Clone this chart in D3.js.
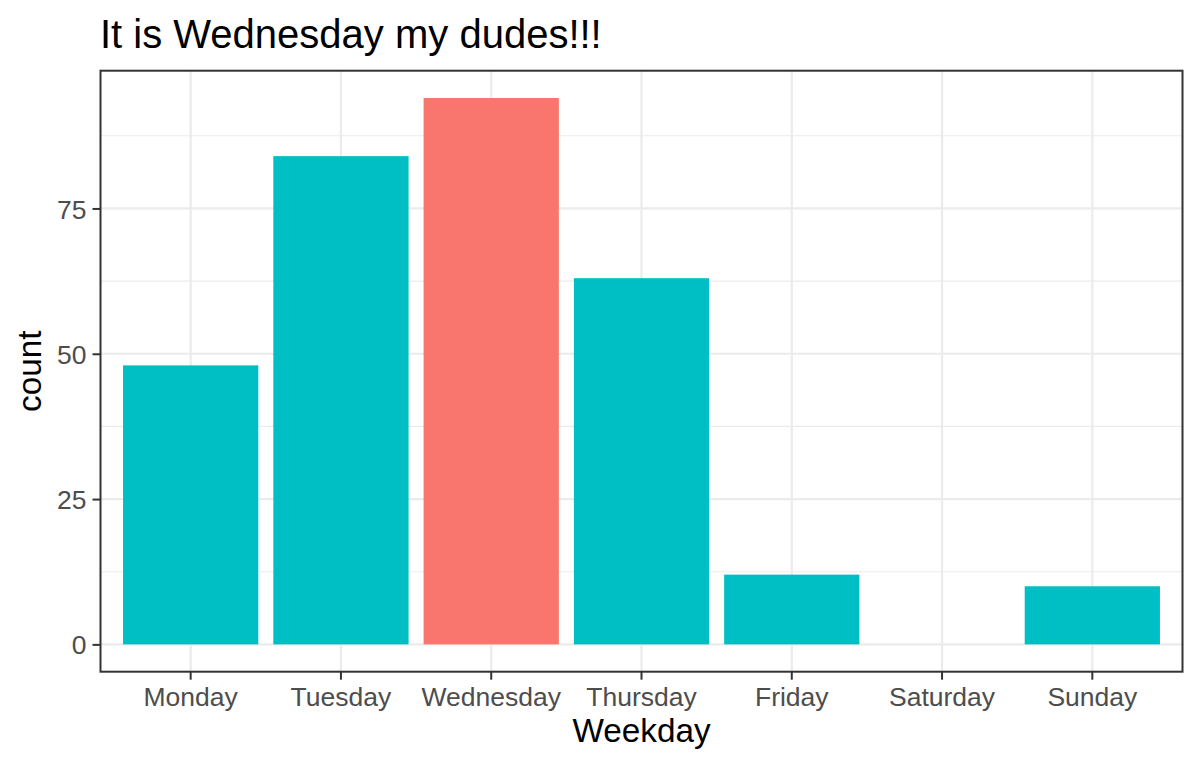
<!DOCTYPE html>
<html>
<head>
<meta charset="utf-8">
<script src="https://cdn.jsdelivr.net/npm/d3@7"></script>
<style>
  html, body { margin: 0; padding: 0; background: #fff; }
  svg { display: block; font-family: "Liberation Sans", Arial, sans-serif; }
</style>
</head>
<body>
<svg id="chart" width="1200" height="768"></svg>
<script>
const categories = ["Monday", "Tuesday", "Wednesday", "Thursday", "Friday", "Saturday", "Sunday"];
const counts = [48, 84, 94, 63, 12, 0, 10];
const highlight = ["FALSE", "FALSE", "TRUE", "FALSE", "FALSE", "FALSE", "FALSE"];
const yTicks = [0, 25, 50, 75];
const yMinor = [12.5, 37.5, 62.5, 87.5];
const titleText = "It is Wednesday my dudes!!!";
const xTitle = "Weekday";
const yTitle = "count";

const svg = d3.select("#chart");
const panel = { left: 100.5, top: 70.7, right: 1182.5, bottom: 671.7 };

const maxV = d3.max(counts);
const y = d3.scaleLinear()
  .domain([-0.05 * maxV, 1.05 * maxV])
  .range([panel.bottom, panel.top]);

const x = d3.scaleBand()
  .domain(categories)
  .range([panel.left, panel.right])
  .paddingInner(0.1)
  .paddingOuter(0.15);

const color = d3.scaleOrdinal().domain(["FALSE", "TRUE"]).range(["#00BFC4", "#F8766D"]);

// panel background
svg.append("rect")
  .attr("x", panel.left).attr("y", panel.top)
  .attr("width", panel.right - panel.left).attr("height", panel.bottom - panel.top)
  .attr("fill", "#fff");

// minor grid
svg.append("g").selectAll("line").data(yMinor).join("line")
  .attr("x1", panel.left).attr("x2", panel.right)
  .attr("y1", d => y(d)).attr("y2", d => y(d))
  .attr("stroke", "#EBEBEB").attr("stroke-width", 1.1);

// major grid y
svg.append("g").selectAll("line").data(yTicks).join("line")
  .attr("x1", panel.left).attr("x2", panel.right)
  .attr("y1", d => y(d)).attr("y2", d => y(d))
  .attr("stroke", "#EBEBEB").attr("stroke-width", 2.2);

// major grid x
svg.append("g").selectAll("line").data(categories).join("line")
  .attr("y1", panel.top).attr("y2", panel.bottom)
  .attr("x1", d => x(d) + x.bandwidth() / 2).attr("x2", d => x(d) + x.bandwidth() / 2)
  .attr("stroke", "#EBEBEB").attr("stroke-width", 2.2);

// bars
svg.append("g").selectAll("rect").data(categories).join("rect")
  .attr("x", d => x(d))
  .attr("width", x.bandwidth())
  .attr("y", (d, i) => y(counts[i]))
  .attr("height", (d, i) => y(0) - y(counts[i]))
  .attr("fill", (d, i) => color(highlight[i]));

// panel border
svg.append("rect")
  .attr("x", panel.left).attr("y", panel.top)
  .attr("width", panel.right - panel.left).attr("height", panel.bottom - panel.top)
  .attr("fill", "none").attr("stroke", "#333333").attr("stroke-width", 2);

// y axis
const yAxis = d3.axisLeft(y).tickValues(yTicks).tickSize(8).tickPadding(6);
const gy = svg.append("g").attr("transform", `translate(${panel.left},0)`).call(yAxis);
gy.select(".domain").remove();
gy.selectAll(".tick line").attr("stroke", "#333333").attr("stroke-width", 2);
gy.selectAll(".tick text").attr("fill", "#4D4D4D").attr("font-size", 26.5)
  .attr("font-family", "'Liberation Sans', Arial, sans-serif").attr("dy", "0.36em");

// x axis
const xAxis = d3.axisBottom(x).tickSize(8).tickPadding(6);
const gx = svg.append("g").attr("transform", `translate(0,${panel.bottom})`).call(xAxis);
gx.select(".domain").remove();
gx.selectAll(".tick line").attr("stroke", "#333333").attr("stroke-width", 2);
gx.selectAll(".tick text").attr("fill", "#4D4D4D").attr("font-size", 26.5)
  .attr("font-family", "'Liberation Sans', Arial, sans-serif")
  .attr("dy", null).attr("y", 34.3);

// title
svg.append("text")
  .attr("x", 100).attr("y", 47.5)
  .attr("font-size", 40).attr("fill", "#000")
  .text(titleText);

// axis titles
svg.append("text")
  .attr("x", (panel.left + panel.right) / 2).attr("y", 741.5)
  .attr("text-anchor", "middle").attr("font-size", 33.3).attr("fill", "#000")
  .text(xTitle);

svg.append("text")
  .attr("transform", `translate(40.5,${(panel.top + panel.bottom) / 2}) rotate(-90)`)
  .attr("text-anchor", "middle").attr("font-size", 33.3).attr("fill", "#000")
  .text(yTitle);
</script>
</body>
</html>
